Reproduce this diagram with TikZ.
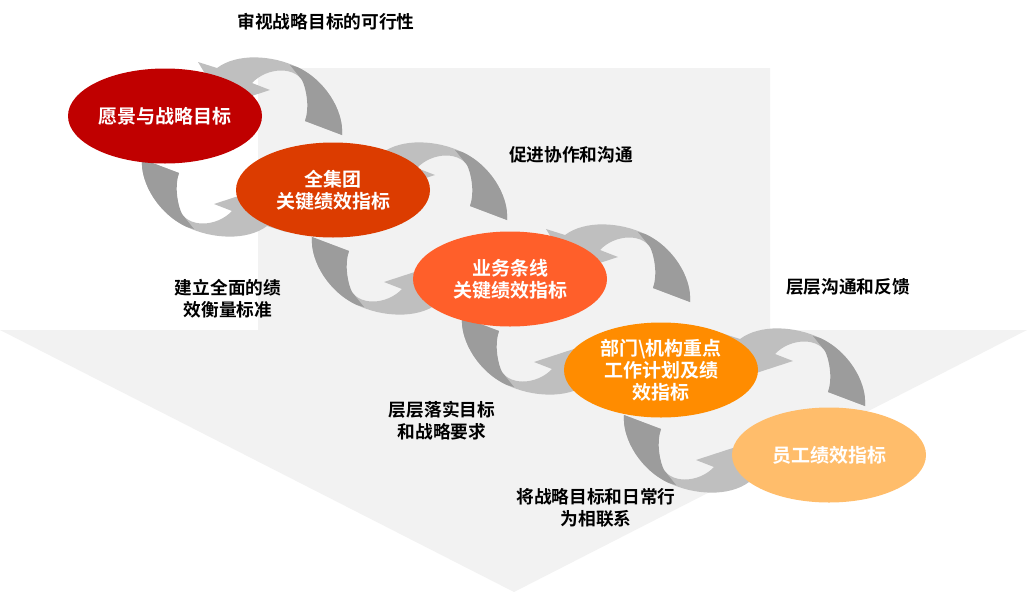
\documentclass[tikz,border=0pt]{standalone}
\usepackage{fontspec}
\newfontfamily\cjk{Noto Sans CJK SC}[BoldFont={Noto Sans CJK SC Bold}]
\usetikzlibrary{shapes.geometric, calc, backgrounds}

\definecolor{bandgray}{HTML}{F2F2F2}
\definecolor{arrowlight}{HTML}{BFBFBF}
\definecolor{arrowdark}{HTML}{9C9C9C}
\definecolor{levelone}{HTML}{C00000}
\definecolor{leveltwo}{HTML}{DC3C00}
\definecolor{levelthree}{HTML}{FF5F2A}
\definecolor{levelfour}{HTML}{FF8C00}
\definecolor{levelfive}{HTML}{FFBD6B}

\tikzstyle{level} = [
    ellipse,
    minimum width=194pt,
    minimum height=95pt,
    inner sep=0pt,
    align=center,
    text=white,
    font=\cjk\bfseries\fontsize{19}{22}\selectfont
]
\tikzstyle{note} = [
    align=center,
    text=black,
    font=\cjk\bfseries\fontsize{17.7}{22}\selectfont
]
\tikzset{
    turnarrow/.pic={
        \fill[arrowlight] (0,0) .. controls (2,-25) and (-18,-56) .. (-45,-68)
            .. controls (-70,-80) and (-105,-82) .. (-125,-67)
            -- (-144,-73) -- (-118,-30) -- (-72,-45) -- (-90,-52)
            .. controls (-75,-68) and (-45,-70) .. (-37,-50)
            .. controls (-32,-38) and (-33,-25) .. (-37,-14) -- cycle;
        \fill[arrowdark] (0,0) .. controls (2,-25) and (-18,-56) .. (-45,-68)
            -- (-52,-70) -- (-40,-55)
            .. controls (-36,-47) and (-32,-28) .. (-37,-14) -- cycle;
    }
}

\begin{document}
\begin{tikzpicture}[x=1pt, y=-1pt]
\useasboundingbox (0,0) rectangle (1027,600);

\node (vision) [level, fill=levelone] at (165,116) {愿景与战略目标};
\node (group) [level, fill=leveltwo] at (333,190) {全集团\\关键绩效指标};
\node (business) [level, fill=levelthree] at (510,279) {业务条线\\关键绩效指标};
\node (dept) [level, fill=levelfour] at (661,370) {部门\textbackslash 机构重点\\工作计划及绩\\效指标};
\node (staff) [level, fill=levelfive] at (829,455) {员工绩效指标};

\node (feasibility) [note] at (326,22) {审视战略目标的可行性};
\node (collab) [note] at (571,155) {促进协作和沟通};
\node (standard) [note] at (228,299) {建立全面的绩\\效衡量标准};
\node (feedback) [note] at (848,287) {层层沟通和反馈};
\node (cascade) [note] at (442,421) {层层落实目标\\和战略要求};
\node (linkage) [note] at (596,508) {将战略目标和日常行\\为相联系};

\begin{scope}[on background layer]
% downward band
\fill[bandgray] (258,68) -- (770,68) -- (770,330) -- (1027,330)
    -- (514,592) -- (0,330) -- (258,330) -- cycle;

% turning arrows between levels
\pic at ($(vision)!0.5!(group)+(93,-18)$) {turnarrow};
\pic[rotate=180] at ($(vision)!0.5!(group)+(-107,6)$) {turnarrow};
\pic at ($(group)!0.5!(business)+(85.5,-14.5)$) {turnarrow};
\pic[rotate=180] at ($(group)!0.5!(business)+(-109.5,2.5)$) {turnarrow};
\pic at ($(business)!0.5!(dept)+(104.5,-22.5)$) {turnarrow};
\pic[rotate=180] at ($(business)!0.5!(dept)+(-123.5,-7.5)$) {turnarrow};
\pic at ($(dept)!0.5!(staff)+(120,-6.5)$) {turnarrow};
\pic[rotate=180] at ($(dept)!0.5!(staff)+(-121,2.5)$) {turnarrow};
\end{scope}

\end{tikzpicture}
\end{document}
